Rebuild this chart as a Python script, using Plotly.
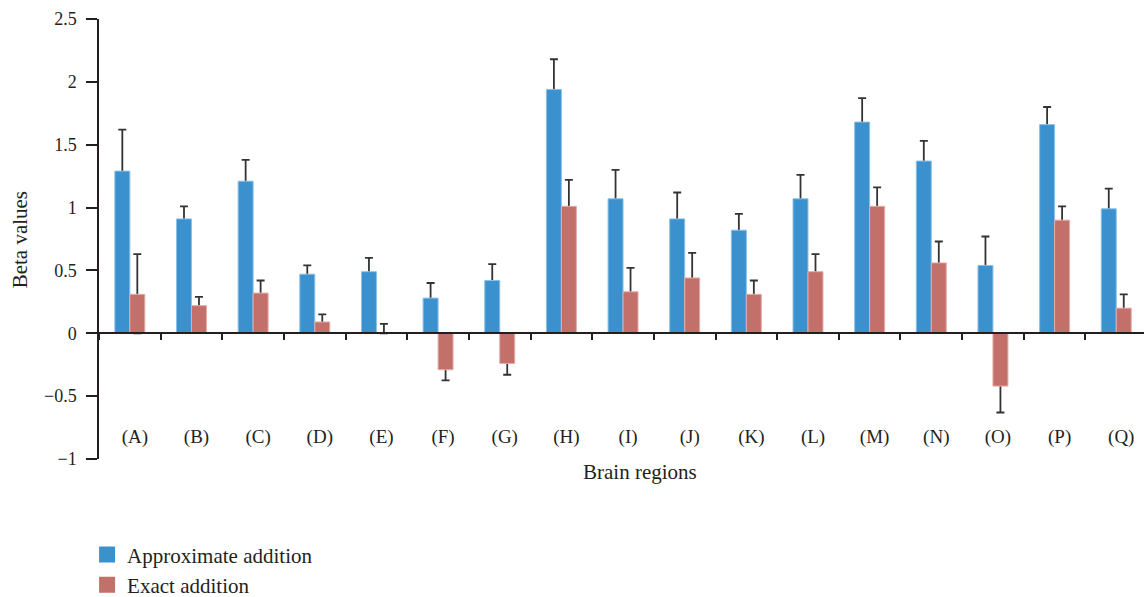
import plotly.graph_objects as go

regions = ["(A)", "(B)", "(C)", "(D)", "(E)", "(F)", "(G)", "(H)", "(I)",
           "(J)", "(K)", "(L)", "(M)", "(N)", "(O)", "(P)", "(Q)"]
approx_vals = [1.29, 0.91, 1.21, 0.47, 0.49, 0.28, 0.42, 1.94, 1.07,
               0.91, 0.82, 1.07, 1.68, 1.37, 0.54, 1.66, 0.99]
approx_err = [0.33, 0.10, 0.17, 0.07, 0.11, 0.12, 0.13, 0.24, 0.23,
              0.21, 0.13, 0.19, 0.19, 0.16, 0.23, 0.14, 0.16]
exact_vals = [0.31, 0.22, 0.32, 0.09, 0.0, -0.29, -0.24, 1.01, 0.33,
              0.44, 0.31, 0.49, 1.01, 0.56, -0.42, 0.90, 0.20]
exact_err = [0.32, 0.07, 0.10, 0.06, 0.075, 0.085, 0.09, 0.21, 0.19,
             0.20, 0.11, 0.14, 0.15, 0.17, 0.21, 0.11, 0.11]

BLUE = "#3A91CE"
RED = "#C4706A"
INK = "#231F20"
FONT = "Liberation Serif"


def split_err(vals, errs):
    plus, minus = [], []
    for v, e in zip(vals, errs):
        if v > 0:
            plus.append(e)
            minus.append(min(e, v))
        elif v < 0:
            minus.append(e)
            plus.append(min(e, -v))
        else:
            plus.append(e)
            minus.append(0)
    return plus, minus


fig = go.Figure()

# error bars (drawn underneath the bars so only the outer whisker shows)
for vals, errs, grp in [(approx_vals, approx_err, "a"),
                        (exact_vals, exact_err, "b")]:
    p, m = split_err(vals, errs)
    fig.add_trace(go.Bar(
        x=regions, y=vals, offsetgroup=grp, showlegend=False,
        marker=dict(color="rgba(0,0,0,0)", line=dict(width=0)),
        error_y=dict(type="data", symmetric=False, array=p, arrayminus=m,
                     color="#333333", thickness=1.8, width=4),
        hoverinfo="skip"))

fig.add_trace(go.Bar(x=regions, y=approx_vals, offsetgroup="a", name="Approximate addition",
                     showlegend=False,
                     marker=dict(color=BLUE, line=dict(color="#8CC0E6", width=1))))
fig.add_trace(go.Bar(x=regions, y=exact_vals, offsetgroup="b", name="Exact addition",
                     showlegend=False,
                     marker=dict(color=RED, line=dict(color="#E2ADA9", width=1))))

# legend entries
for name, col in [("Approximate addition", BLUE), ("Exact addition", RED)]:
    fig.add_trace(go.Scatter(x=[None], y=[None], mode="markers", name=name,
                             marker=dict(symbol="square", size=17, color=col)))

fig.update_layout(
    width=1144, height=597,
    margin=dict(l=99, r=0, t=19, b=138, autoexpand=False),
    paper_bgcolor="white", plot_bgcolor="white",
    barmode="group", bargap=0.514, bargroupgap=0,
    font=dict(family=FONT, size=18, color=INK),
    showlegend=True,
    legend=dict(x=-0.0114, xanchor="left", y=-0.171, yanchor="top",
                font=dict(family=FONT, size=21, color=INK),
                bgcolor="rgba(0,0,0,0)", tracegroupgap=0),
    xaxis=dict(
        type="category", range=[-0.5, 16.45],
        anchor="free", position=1 / 3.5, automargin=False,
        showline=True, linecolor=INK, linewidth=1.5,
        ticks="outside", ticklen=6, tickwidth=1.5, tickcolor=INK,
        tickson="boundaries", showgrid=False, zeroline=False,
        ticklabelstandoff=86, ticklabelshift=5,
        tickfont=dict(family=FONT, size=19, color=INK),
    ),
    yaxis=dict(
        range=[-1, 2.5], dtick=0.5, tick0=0, automargin=False,
        showline=True, linecolor=INK, linewidth=1.5,
        ticks="outside", ticklen=11, tickwidth=1.5, tickcolor=INK,
        showgrid=False, zeroline=False,
        ticklabelstandoff=6,
        tickfont=dict(family=FONT, size=18, color=INK),
    ),
    annotations=[
        dict(text="Brain regions", xref="paper", yref="paper",
             x=0.518, y=-0.0295, xanchor="center", yanchor="middle",
             showarrow=False, font=dict(family=FONT, size=21, color=INK)),
        dict(text="Beta values", xref="paper", yref="paper",
             x=-0.0761, y=0.498, xanchor="center", yanchor="middle",
             textangle=-90, showarrow=False,
             font=dict(family=FONT, size=21, color=INK)),
    ],
)

fig.write_html("out.html", config={"displayModeBar": False},
               post_script="document.body.style.margin='0';")
